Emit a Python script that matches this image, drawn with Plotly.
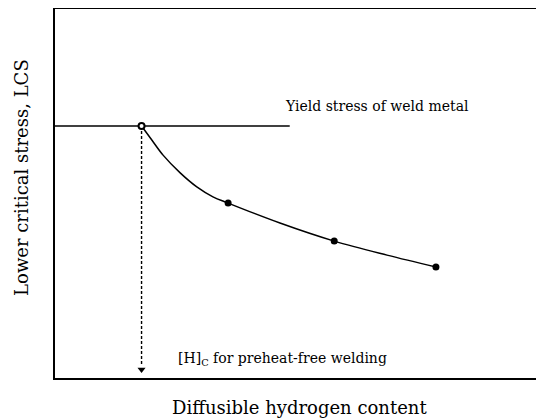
import plotly.graph_objects as go

# Data (arbitrary units, 0-100 on both axes)
point_x = [17.7, 35.4, 57.1, 77.9]
point_y = [68.3, 47.4, 37.1, 30.1]

curve_x = [17.7, 19.8, 22.1, 25.6, 29.0, 32.3, 35.4, 46.0, 57.1, 67.9, 77.9]
curve_y = [68.3, 64.5, 60.4, 55.6, 51.8, 49.1, 47.4, 42.0, 37.1, 33.3, 30.1]

yield_x = [0, 48.0]
yield_level = 68.3

hc_x = 17.7
dash_end_y = 3.4
arrow_y = 2.3

fig = go.Figure()

# yield stress line
fig.add_trace(go.Scatter(x=yield_x, y=[yield_level, yield_level], mode="lines",
                         line=dict(color="black", width=1.5), hoverinfo="skip"))
# dashed drop line
fig.add_trace(go.Scatter(x=[hc_x, hc_x], y=[yield_level, dash_end_y], mode="lines",
                         line=dict(color="black", width=1.4, dash="3px,2px"), hoverinfo="skip"))
fig.add_trace(go.Scatter(x=[hc_x], y=[arrow_y], mode="markers",
                         marker=dict(symbol="triangle-down", size=7, color="black"), hoverinfo="skip"))
# LCS curve
fig.add_trace(go.Scatter(x=curve_x, y=curve_y, mode="lines", line_shape="spline",
                         line=dict(color="black", width=1.5), hoverinfo="skip"))
fig.add_trace(go.Scatter(x=point_x[1:], y=point_y[1:], mode="markers",
                         marker=dict(size=7, color="black"), hoverinfo="skip"))
fig.add_trace(go.Scatter(x=point_x[:1], y=point_y[:1], mode="markers",
                         marker=dict(size=6, color="white", line=dict(color="black", width=2)),
                         hoverinfo="skip"))

fig.add_annotation(x=46.6, y=73.7, xref="x", yref="y", text="Yield stress of weld metal",
                   showarrow=False, xanchor="left", yanchor="middle",
                   font=dict(family="DejaVu Serif", size=14, color="black"))
fig.add_annotation(x=24.7, y=5.1, xref="x", yref="y", text="[H]<sub>C</sub> for preheat-free welding",
                   showarrow=False, xanchor="left", yanchor="middle",
                   font=dict(family="DejaVu Serif", size=14, color="black"))
fig.add_annotation(x=0.501, y=-0.081, xref="paper", yref="paper", text="Diffusible hydrogen content",
                   showarrow=False, xanchor="center", yanchor="middle",
                   font=dict(family="DejaVu Serif", size=18, color="black"))
fig.add_annotation(x=-0.0675, y=0.545, xref="paper", yref="paper", text="Lower critical stress, LCS",
                   showarrow=False, xanchor="center", yanchor="middle", textangle=-90,
                   font=dict(family="DejaVu Serif", size=18, color="black"))

# The page body adds an 8px offset, so the figure is 8px smaller than the window.
fig.update_layout(
    width=536, height=411,
    margin=dict(l=47, r=0, t=1, b=41),
    paper_bgcolor="white", plot_bgcolor="white",
    showlegend=False,
    xaxis=dict(range=[0, 100], showgrid=False, zeroline=False, showticklabels=False, ticks="",
               showline=True, mirror=True, linecolor="black", linewidth=2),
    yaxis=dict(range=[0, 100], showgrid=False, zeroline=False, showticklabels=False, ticks="",
               showline=True, mirror=False, linecolor="black", linewidth=2),
)

fig.write_html("out.html")
